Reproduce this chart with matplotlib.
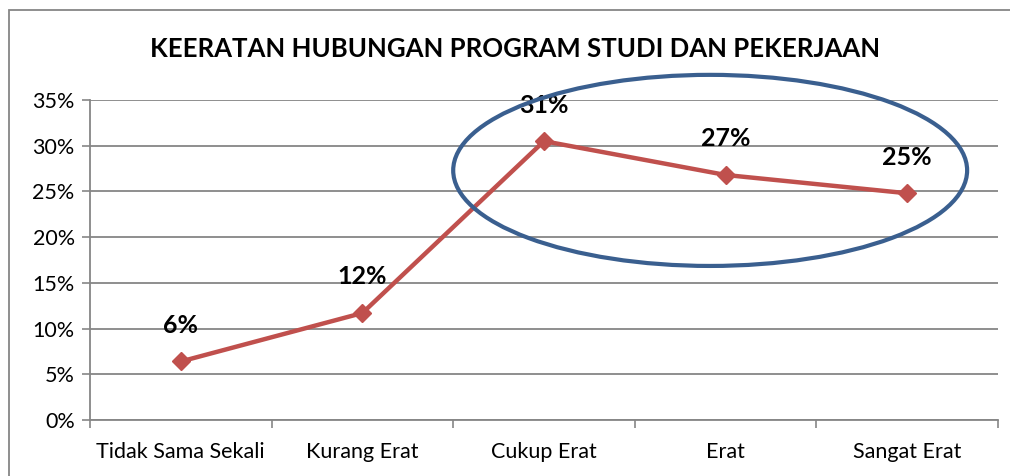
import matplotlib.pyplot as plt
from matplotlib.patches import Ellipse, Rectangle

# data
categories = ['Tidak Sama Sekali', 'Kurang Erat', 'Cukup Erat', 'Erat', 'Sangat Erat']
values = [6.4, 11.7, 30.5, 26.8, 24.8]
value_labels = ['6%', '12%', '31%', '27%', '25%']
y_ticks = [0, 5, 10, 15, 20, 25, 30, 35]

plt.rcParams['font.family'] = ['Lato', 'DejaVu Sans']
grid_col = '#868686'
line_col = '#C0504D'
ring_col = '#3A5F8F'

fig = plt.figure(figsize=(10.1, 4.76), dpi=100)
ax = fig.add_axes([90 / 1010, 56 / 476, 908 / 1010, 320 / 476])

x = list(range(len(categories)))
ax.plot(x, values, color=line_col, lw=3.2, marker='D', ms=9, zorder=3)

for xi, v, lab in zip(x, values, value_labels):
    ax.annotate(lab, (xi, v), xytext=(0, 26), textcoords='offset points',
                ha='center', va='center', fontsize=18, fontweight='bold', zorder=4)

# highlight ring around the top three categories
ax.add_patch(Ellipse((2.915, 27.3), 2.83, 20.9, fill=False, ec=ring_col, lw=3,
                     clip_on=False, zorder=5))

ax.set_xlim(-0.5, 4.5)
ax.set_ylim(0, 35)
ax.set_yticks(y_ticks)
ax.set_yticklabels([f'{t}%' for t in y_ticks], fontsize=15.5)
ax.set_xticks(x)
ax.set_xticklabels(categories, fontsize=15.5)
ax.set_xticks([i - 0.5 for i in range(len(categories) + 1)], minor=True)
ax.tick_params(axis='x', which='major', length=0, pad=16)
ax.tick_params(axis='x', which='minor', length=6, color=grid_col, width=1.2)
ax.tick_params(axis='y', length=6, color=grid_col, width=1.2, pad=5)
ax.grid(axis='y', color=grid_col, lw=1.3)
ax.set_axisbelow(True)
for s in ['top', 'right']:
    ax.spines[s].set_visible(False)
for s in ['left', 'bottom']:
    ax.spines[s].set_color(grid_col)
    ax.spines[s].set_linewidth(1.3)

fig.text(515 / 1010, 1 - 49 / 476, 'KEERATAN HUBUNGAN PROGRAM STUDI DAN PEKERJAAN',
         ha='center', va='center', fontsize=18.5, fontweight='bold')

# outer chart border
fig.patches.append(Rectangle((9 / 1010, -0.1), 1.2, 1.1 - 10 / 476, fill=False,
                             ec=grid_col, lw=1.3, transform=fig.transFigure))

fig.savefig('out.png', dpi=100)
